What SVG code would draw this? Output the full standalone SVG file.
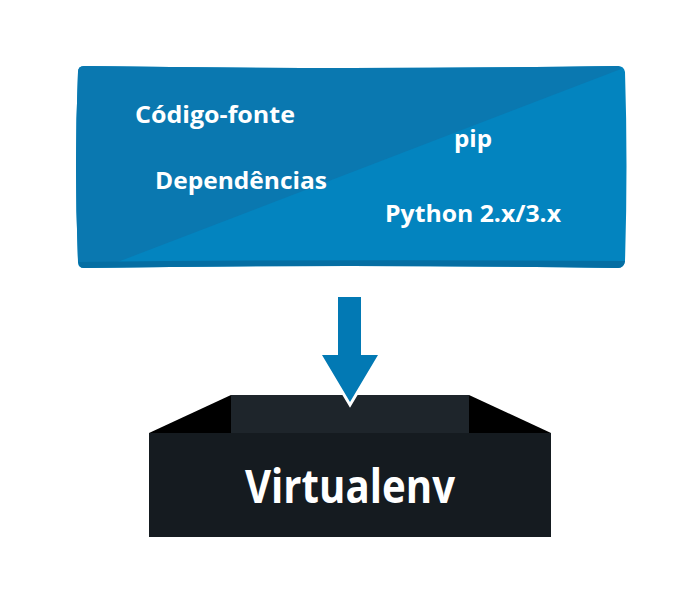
<svg xmlns="http://www.w3.org/2000/svg" width="700" height="601" viewBox="0 0 700 601">
<style>
.lbl{font-family:"Open Sans",Lato,"Liberation Sans",sans-serif;font-weight:bold;fill:#ffffff}
</style>
<rect width="700" height="601" fill="#ffffff"/>
<g id="stack">
<path d="M84,66 Q350,70 618,66 Q624,66 625,72 Q628,165 625,261 Q624,268 618,268 Q350,264 84,268 Q78,268 78,262 Q74,165 78,72 Q78,66 84,66 Z" fill="#0384bf"/>
<path d="M84,66 Q350,70 618,66 Q620,66 621,69 L115,263 Q96,264 84,265 Q78,265 78,259 Q74,165 78,72 Q78,66 84,66 Z" fill="#0a78b0"/>
<path d="M78,259 Q78,268 84,268 Q350,264 618,268 Q624,268 625,261 L624,261 Q350,259 79,262 Z" fill="#056ea3"/>
<text class="lbl" x="135" y="123" font-size="22.5" textLength="160" lengthAdjust="spacingAndGlyphs">Código-fonte</text>
<text class="lbl" x="454" y="147" font-size="22.5" textLength="38" lengthAdjust="spacingAndGlyphs">pip</text>
<text class="lbl" x="155" y="189" font-size="22.5" textLength="172" lengthAdjust="spacingAndGlyphs">Dependências</text>
<text class="lbl" x="385" y="222" font-size="22.5" textLength="176" lengthAdjust="spacingAndGlyphs">Python 2.x/3.x</text>
</g>
<g id="virtualenv">
<rect x="231" y="395" width="238" height="39" fill="#1e252b"/>
<polygon points="149,433 231,395 231,433" fill="#000000"/>
<polygon points="469,395 551,433 469,433" fill="#000000"/>
<rect x="149" y="433" width="402" height="104" fill="#151b20"/>
<text class="lbl" x="245" y="503" font-size="47" textLength="210" lengthAdjust="spacingAndGlyphs">Virtualenv</text>
</g>
<g id="connectors">
<path d="M338,297 H361 V355 H378 L350,402 L322,355 H338 Z" fill="#ffffff" stroke="#ffffff" stroke-width="6" stroke-linejoin="miter" stroke-miterlimit="10"/>
<path d="M338,297 H361 V355 H378 L350,402 L322,355 H338 Z" fill="#0279b4"/>
</g>
</svg>
